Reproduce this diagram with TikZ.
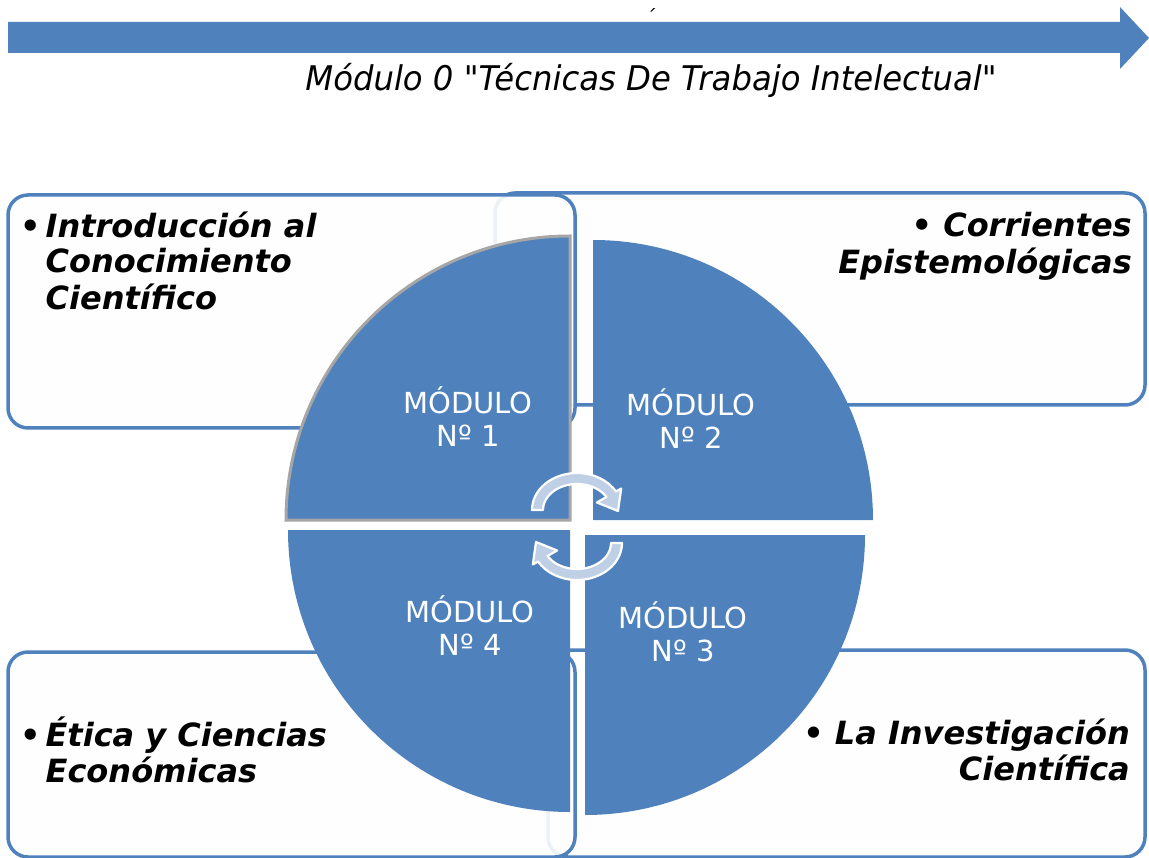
\documentclass[tikz,border=0pt]{standalone}
\usepackage{fontspec}
\setmainfont{DejaVu Sans}
\newfontfamily\bfitfont{DejaVu Sans Bold Oblique}
\newfontfamily\itfont{DejaVu Sans Oblique}
\definecolor{accent}{HTML}{4F81BD}
\definecolor{boxfill}{HTML}{FEFEFE}
\definecolor{cyc}{HTML}{BFCFE6}
\definecolor{selgray}{HTML}{A6A6A6}
\begin{document}
\begin{tikzpicture}[x=1pt,y=1pt,
  cornerbox/.style={draw=accent, line width=3.5pt, fill=boxfill, rounded corners=20pt},
  modtext/.style={text=white, font=\fontsize{29}{33}\selectfont, inner sep=0pt, anchor=base},
  boxtext/.style={font=\bfitfont\fontsize{32}{35}\selectfont, inner sep=0pt},
  cycarrow/.style={fill=cyc, draw=white, line width=2.2pt, line join=round}]

\useasboundingbox (0,0) rectangle (1149,-858);
\clip (0,0) rectangle (1149,-858);

% top arrow
\fill[accent] (8,-22) -- (1120,-22) -- (1120,-7) -- (1149,-38) -- (1120,-69) -- (1120,-53) -- (8,-53) -- cycle;
\node[font=\itfont\fontsize{34}{38}\selectfont, inner sep=0pt, anchor=base] (title) at (651,-91) {\scalebox{0.95}[1]{Módulo 0 "Técnicas De Trabajo Intelectual"}};
\node[font=\itfont\fontsize{20}{20}\selectfont, inner sep=0pt, anchor=base] (mark) at (650,-25) {´};

% corner boxes
\draw[cornerbox] (495,-193) rectangle (1145,-405);
\draw[cornerbox] (548,-650) rectangle (1145,-857);
\draw[cornerbox, fill opacity=0.9] (8,-195) rectangle (575,-428);
\draw[cornerbox, fill opacity=0.9] (8,-652) rectangle (575,-857);

% quarters
\fill[accent] (570,-520) -- ++(-284,0) arc[start angle=180,end angle=90,radius=284] -- cycle;
\draw[selgray, line width=3pt] (570,-520) -- ++(-284,0) arc[start angle=180,end angle=90,radius=284] -- cycle;
\fill[accent] (593,-520) -- ++(0,280) arc[start angle=90,end angle=0,radius=280] -- cycle;
\fill[accent] (585,-535) -- ++(280,0) arc[start angle=0,end angle=-90,radius=280] -- cycle;
\fill[accent] (570,-530) -- ++(0,-282) arc[start angle=270,end angle=180,radius=282] -- cycle;

% cycle arrows
\begin{scope}[shift={(577,-510)}]
\filldraw[cycarrow] (180:45 and 37) arc[start angle=180,end angle=30,x radius=45,y radius=37]
  -- (30:51 and 43) -- (41,-1) -- (30:23 and 15)
  -- (30:34 and 26) arc[start angle=30,end angle=180,x radius=34,y radius=26] -- cycle;
\end{scope}
\begin{scope}[shift={(577,-543)}, rotate=180]
\filldraw[cycarrow] (180:45 and 37) arc[start angle=180,end angle=30,x radius=45,y radius=37]
  -- (30:51 and 43) -- (41,-1) -- (30:23 and 15)
  -- (30:34 and 26) arc[start angle=30,end angle=180,x radius=34,y radius=26] -- cycle;
\end{scope}

% module labels
\node[modtext] (m1) at (468,-414) {\begin{tabular}[t]{@{}c@{}}MÓDULO\\Nº 1\end{tabular}};
\node[modtext] (m2) at (691,-416) {\begin{tabular}[t]{@{}c@{}}MÓDULO\\Nº 2\end{tabular}};
\node[modtext] (m3) at (683,-628) {\begin{tabular}[t]{@{}c@{}}MÓDULO\\Nº 3\end{tabular}};
\node[modtext] (m4) at (470,-622) {\begin{tabular}[t]{@{}c@{}}MÓDULO\\Nº 4\end{tabular}};

% box texts
\node[boxtext, anchor=base west] (t1) at (20,-238) {\begin{tabular}[t]{@{}l@{\hspace{5pt}}l@{}}•&Introducción al\\&Conocimiento\\&Científico\end{tabular}};
\node[boxtext, anchor=base east] (t2) at (1132,-237) {\begin{tabular}[t]{@{}r@{}}• Corrientes\\Epistemológicas\end{tabular}};
\node[boxtext, anchor=base west] (t4) at (20,-746) {\begin{tabular}[t]{@{}l@{\hspace{5pt}}l@{}}•&Ética y Ciencias\\&Económicas\end{tabular}};
\node[boxtext, anchor=base east] (t3) at (1130,-744) {\begin{tabular}[t]{@{}r@{}}• La Investigación\\Científica\end{tabular}};
\end{tikzpicture}
\end{document}
